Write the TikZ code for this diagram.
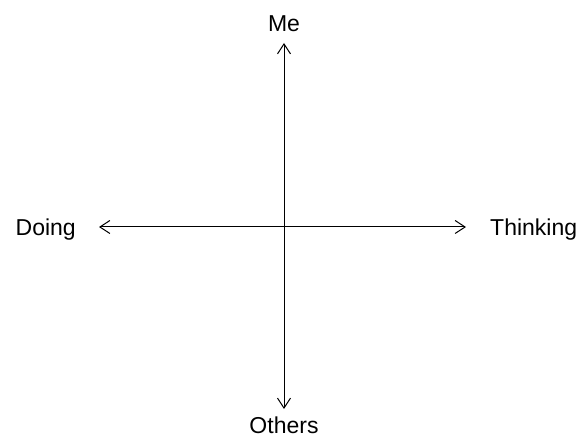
\documentclass[tikz,border=0pt]{standalone}
\usepackage{fontspec}
\setmainfont{Liberation Sans}
\usetikzlibrary{positioning,arrows.meta}

\begin{document}
\begin{tikzpicture}[
            x=1pt, y=1pt,
            >={Straight Barb[length=10pt, width=13pt]},
            axis/.style={<->, line width=1pt},
            lbl/.style={font=\fontsize{23}{27}\selectfont, inner sep=0pt}
        ]
            \useasboundingbox (0,0) rectangle (582,439);
            \coordinate (top)    at (284,396);
            \coordinate (bottom) at (284,30);
            \coordinate (left)   at (99,212);
            \coordinate (right)  at (466,212);

            \node[lbl, anchor=base]      (me)       at (284,407) {Me};
            \node[lbl, anchor=base]      (others)   at (284,5)   {Others};
            \node[lbl, anchor=base east] (doing)    at (76,203)  {Doing};
            \node[lbl, anchor=base west] (thinking) at (490,203) {Thinking};

            \draw[axis] (top) -- (bottom);
            \draw[axis] (left) -- (right);
        \end{tikzpicture}
\end{document}
